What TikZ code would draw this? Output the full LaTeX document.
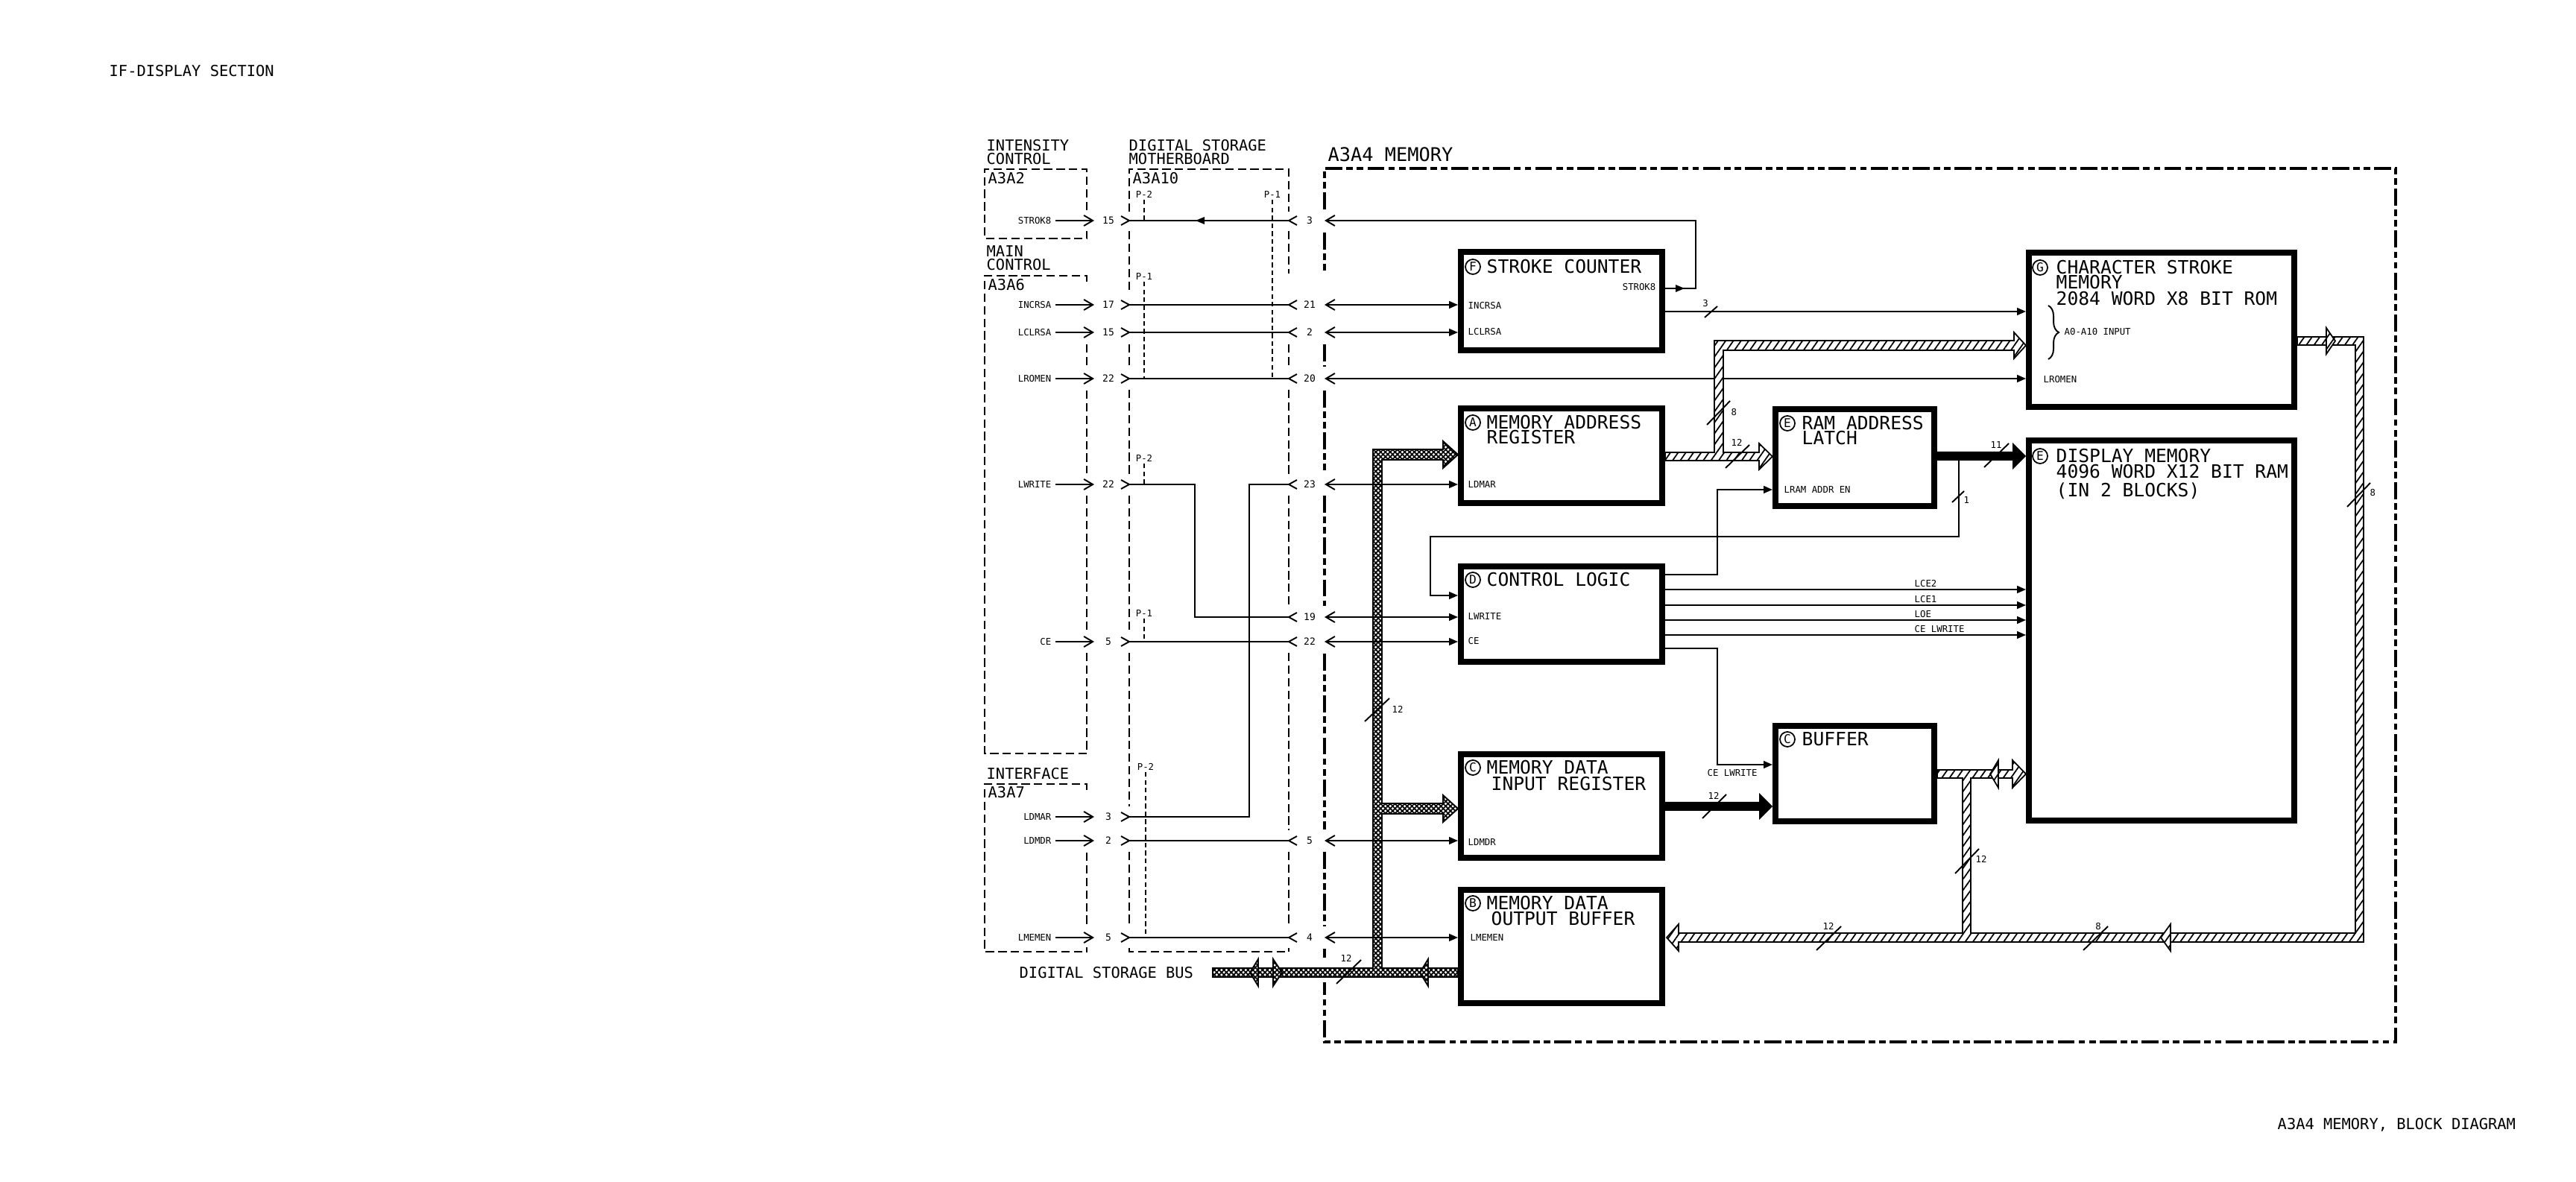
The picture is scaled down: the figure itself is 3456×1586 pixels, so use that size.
\documentclass[tikz,border=0pt]{standalone}
\usepackage{fontspec}
\setmainfont{DejaVu Sans Mono}
\usetikzlibrary{arrows.meta,patterns.meta,decorations.pathreplacing}
\begin{document}
\begin{tikzpicture}[x=0.01cm,y=-0.01cm,
 ttl/.style={font=\fontsize{7pt}{8pt}\selectfont,anchor=base west,inner sep=0pt,yshift=-2.55pt},
 sec/.style={font=\fontsize{5.8pt}{7pt}\selectfont,anchor=base west,inner sep=0pt,yshift=-2.11pt},
 sml/.style={font=\fontsize{3.5pt}{4pt}\selectfont,anchor=base west,inner sep=0pt,yshift=-1.28pt},
 smr/.style={sml,anchor=base east},
 smc/.style={sml,anchor=base},
 numc/.style={font=\fontsize{3.7pt}{4pt}\selectfont,anchor=base,inner sep=0pt,yshift=-1.35pt},
 lbl/.style={font=\fontsize{3.5pt}{4pt}\selectfont,anchor=base west,inner sep=0pt},
 blk/.style={draw,line width=2.28pt,inner sep=0pt,anchor=north west},
 cl/.style={circle,draw,line width=0.5pt,inner sep=0pt,minimum size=0.2cm,font=\fontsize{4.6pt}{5pt}\selectfont},
 wire/.style={line width=0.55pt},
 tin/.style={wire,-{Triangle[length=3.4pt,width=2.8pt]}},
 bi/.style={wire,{Straight Barb[length=3.4pt,width=4pt]}-{Triangle[length=3.4pt,width=2.8pt]}},
 bout/.style={wire,{Straight Barb[length=3.4pt,width=4pt]}-},
 oarr/.style={wire,-{Straight Barb[length=3.4pt,width=4pt]}},
 dbox/.style={line width=0.6pt,dash pattern=on 3.2pt off 1.6pt},
 dmem/.style={line width=1.15pt,dash pattern=on 6.5pt off 1.5pt on 2.5pt off 1.5pt on 2.5pt off 1.5pt},
 pdash/.style={line width=0.4pt,dash pattern=on 1.8pt off 1.2pt},
 xbus/.style={draw,line width=0.55pt,preaction={fill=white},pattern={Hatch[angle=45,distance=1.3pt,line width=0.5pt]}},
 hbus/.style={draw,line width=0.5pt,preaction={fill=white},pattern={Lines[angle=55,distance=2.4pt,line width=0.5pt]}},
 sbus/.style={fill=black},
 slash/.style={line width=0.55pt}
]
\fill[white] (0,0) rectangle (3456,1586);
\useasboundingbox (0,0) rectangle (3456,1586);

% ---------- row coordinates ----------
\foreach \r in {296,387,409,418,446,508,650,657,720,771,791,799,812,828,832,852,861,870,1026,1128,1258}
  {\coordinate (y\r) at (0,\r); \coordinate (b\r) at (1777,\r);}

% ---------- corner texts ----------
\node[sec] (tIF) at (146,95) {IF-DISPLAY SECTION};
\node[sec] (tBD) at (3055,1508) {A3A4 MEMORY, BLOCK DIAGRAM};

% ---------- left section labels ----------
\node[sec] (tIC1) at (1323,195) {INTENSITY};
\node[sec] (tIC2) at (1323,213) {CONTROL};
\node[sec] (tDS1) at (1514,195) {DIGITAL STORAGE};
\node[sec] (tDS2) at (1514,213) {MOTHERBOARD};
\node[sec] (tMC1) at (1323,337) {MAIN};
\node[sec] (tMC2) at (1323,355) {CONTROL};
\node[sec] (tINT) at (1323,1038) {INTERFACE};
\node[sec] (tA2) at (1325,239) {A3A2};
\node[sec] (tA10) at (1519,239) {A3A10};
\node[sec] (tA6) at (1325,382) {A3A6};
\node[sec] (tA7) at (1325,1063) {A3A7};
\node[sec] (tBus) at (1367,1305) {DIGITAL STORAGE BUS};
\node[ttl,font=\fontsize{7.2pt}{8pt}\selectfont] (tMem) at (1781,208) {A3A4 MEMORY};

% ---------- dashed boxes ----------
\draw[dbox] (1458,282) -- (1458,227) -- (1321,227) -- (1321,320) -- (1458,320) -- (1458,310);
\draw[dbox] (1458,378) -- (1458,370) -- (1321,370) -- (1321,1011) -- (1458,1011) -- (1458,876);
\foreach \a/\b in {462/492,524/635,665/846} \draw[dbox] (1458,\a) -- (1458,\b);
\draw[dbox] (1458,1060) -- (1458,1052) -- (1321,1052) -- (1321,1277) -- (1458,1277) -- (1458,1271);
\draw[dbox] (1458,1144) -- (1458,1244);
% A3A10
\draw[dbox] (1515,284) -- (1515,227) -- (1729,227) -- (1729,284);
\draw[dbox] (1515,1272) -- (1515,1277) -- (1729,1277) -- (1729,1272);
\foreach \a/\b in {310/394,462/493,523/636,665/846,876/1082,1143/1244} \draw[dbox] (1515,\a) -- (1515,\b);
\foreach \a/\b in {310/367,462/493,523/636,665/813,876/1114,1143/1244} \draw[dbox] (1729,\a) -- (1729,\b);
% A3A4
\draw[dmem] (1777,281) -- (1777,226) -- (3214,226) -- (3214,1398) -- (1777,1398) -- (1777,1318);
\foreach \a/\b in {312/367,462/492,524/636,665/813,877/1113,1143/1243,1273/1285} \draw[dmem] (1777,\a) -- (1777,\b);

% ---------- P labels ----------
\foreach \px/\pl/\pe/\pt [count=\k] in {1535/261/296/P-2,1707/261/508/P-1,1535/371/508/P-1,1535/615/650/P-2,1535/823/861/P-1,1537/1029/1258/P-2}{
  \node[smc] (pl\k) at (\px,\pl) {\pt};
  \draw[pdash] (\px,\pl+7) -- (\px,\pe);
}

% ---------- blocks ----------
\node[blk,minimum width=2.70cm,minimum height=1.32cm] (F) at (1956,334) {};
\node[blk,minimum width=2.70cm,minimum height=1.27cm] (A) at (1956,544) {};
\node[blk,minimum width=2.70cm,minimum height=1.28cm] (D) at (1956,756) {};
\node[blk,minimum width=2.70cm,minimum height=1.39cm] (C) at (1956,1008) {};
\node[blk,minimum width=2.70cm,minimum height=1.52cm] (B) at (1956,1190) {};
\node[blk,minimum width=2.13cm,minimum height=1.30cm] (L) at (2378,545) {};
\node[blk,minimum width=2.13cm,minimum height=1.28cm] (U) at (2378,970) {};
\node[blk,minimum width=3.56cm,minimum height=2.07cm] (G) at (2718,335) {};
\node[blk,minimum width=3.56cm,minimum height=5.10cm] (M) at (2718,587) {};

% ---------- cross-hatched digital storage bus ----------
\draw[xbus] (1842,603) -- (1936,603) -- (1936,592) -- (1956,610) -- (1936,628) -- (1936,617) -- (1854,617)
  -- (1854,1078) -- (1936,1078) -- (1936,1067) -- (1956,1085) -- (1936,1103) -- (1936,1092) -- (1854,1092)
  -- (1854,1299) -- (1956,1299) -- (1956,1311) -- (1627,1311) -- (1627,1299) -- (1842,1299) -- cycle;
\draw[xbus] (1677,1305) -- (1688,1287) -- (1688,1323) -- cycle;
\draw[xbus] (1720,1305) -- (1708,1287) -- (1708,1323) -- cycle;
\draw[xbus] (1905,1305) -- (1916,1287) -- (1916,1323) -- cycle;

% ---------- left side signals ----------
\foreach \yy/\ss/\nn in {296/STROK8/15,409/INCRSA/17,446/LCLRSA/15,508/LROMEN/22,650/LWRITE/22,861/CE/5,1096/LDMAR/3,1128/LDMDR/2,1258/LMEMEN/5}{
  \node[smr] (lab\yy) at (1411,\yy) {\ss};
  \draw[oarr] (1416,\yy) -- (1468,\yy);
  \node[numc] (ln\yy) at (1487,\yy) {\nn};
  \draw[wire] (1504,\yy-6) -- (1515,\yy) -- (1504,\yy+6);
}
\foreach \yy/\nn in {296/3,409/21,446/2,508/20,650/23,828/19,861/22,1128/5,1258/4}{
  \draw[wire] (1740,\yy-6) -- (1729,\yy) -- (1740,\yy+6);
  \node[numc] (rn\yy) at (1757,\yy) {\nn};
}
% motherboard wiring
\foreach \yy in {296,409,446,508,861,1128,1258} \draw[wire] (1515,\yy) -- (1729,\yy);
\fill (1616,291) -- (1604,296) -- (1616,301) -- cycle;
\draw[wire] (1515,650) -- (1603,650) -- (1603,828) -- (1729,828);
\draw[wire] (1729,650) -- (1676,650) -- (1676,1096) -- (1515,1096);

% ---------- A3A4 internal signals ----------
\draw[bout] (b296) -- (2275,296) -- (2275,387) -- (F.east |- y387);
\fill (2248,382) -- (2260,387) -- (2248,392) -- cycle;
\draw[bi] (b409) -- (F.west |- y409);
\draw[bi] (b446) -- (F.west |- y446);
\draw[bi] (b508) -- (G.west |- y508);
\draw[bi] (b650) -- (A.west |- y650);
\draw[bi] (b828) -- (D.west |- y828);
\draw[bi] (b861) -- (D.west |- y861);
\draw[bi] (b1128) -- (C.west |- y1128);
\draw[bi] (b1258) -- (B.west |- y1258);
\draw[tin] (F.east |- y418) -- (G.west |- y418);
\draw[tin] (D.east |- y771) -- (2304,771) -- (2304,657) -- (L.west |- y657);
\foreach \r in {791,812,832,852} \draw[tin] (D.east |- y\r) -- (M.west |- y\r);
\draw[tin] (D.east |- y870) -- (2304,870) -- (2304,1026) -- (U.west |- y1026);
\draw[tin] (2628,618) -- (2628,720) -- (1919,720) -- (1919,799) -- (D.west |- y799);

% ---------- hatched buses ----------
\draw[hbus] (2234,607) -- (2300,607) -- (2300,457) -- (2702,457) -- (2702,446) -- (2718,463.5) -- (2702,481) -- (2702,470)
  -- (2312,470) -- (2312,607) -- (2360,607) -- (2360,595) -- (2378,612.5) -- (2360,630) -- (2360,618) -- (2234,618) -- cycle;
\draw[hbus] (3082,452) -- (3171,452) -- (3171,1264) -- (2252,1264) -- (2252,1276) -- (2236,1258) -- (2252,1240) -- (2252,1252)
  -- (2633,1252) -- (2633,1044) -- (2599,1044) -- (2599,1033) -- (2700,1033) -- (2700,1020) -- (2718,1038.5) -- (2700,1057)
  -- (2700,1044) -- (2644,1044) -- (2644,1252) -- (3160,1252) -- (3160,463) -- (3082,463) -- cycle;
\draw[hbus] (2670,1038.5) -- (2681,1020) -- (2681,1057) -- cycle;
\draw[hbus] (3133,457.5) -- (3121,440) -- (3121,475) -- cycle;
\draw[hbus] (2899,1258) -- (2912,1240) -- (2912,1276) -- cycle;
% solid buses
\fill[sbus] (2599,606) -- (2700,606) -- (2700,594) -- (2718,612) -- (2700,630) -- (2700,618) -- (2599,618) -- cycle;
\fill[sbus] (2234,1076) -- (2360,1076) -- (2360,1064) -- (2378,1082) -- (2360,1100) -- (2360,1088) -- (2234,1088) -- cycle;

% ---------- bus width slashes ----------
\draw[slash] (1831,968) -- (1864,937);   \node[sml] (n1) at (1867,952) {12};
\draw[slash] (1793,1320) -- (1826,1288); \node[smc] (n2) at (1806,1286) {12};
\draw[slash] (2287,426) -- (2304,411);   \node[smc] (n3) at (2288,407) {3};
\draw[slash] (2290,570) -- (2321,538);   \node[sml] (n4) at (2322,553) {8};
\draw[slash] (2315,628) -- (2347,597);   \node[smc] (n5) at (2330,594) {12};
\draw[slash] (2662,627) -- (2695,595);   \node[smc] (n6) at (2678,597) {11};
\draw[slash] (2619,674) -- (2635,659);   \node[sml] (n7) at (2634,671) {1};
\draw[slash] (2284,1098) -- (2316,1066); \node[smc] (n8) at (2299,1068) {12};
\draw[slash] (2623,1172) -- (2655,1139); \node[sml] (n9) at (2650,1153) {12};
\draw[slash] (2437,1275) -- (2470,1243); \node[smc] (n10) at (2453,1243) {12};
\draw[slash] (2795,1275) -- (2828,1243); \node[smc] (n11) at (2815,1243) {8};
\draw[slash] (3149,680) -- (3180,648);   \node[sml] (n12) at (3179,661) {8};

% ---------- block texts ----------
\node[cl] (cF) at (1976,358) {F};  \node[ttl] (hF) at (1994,358) {STROKE COUNTER};
\node[smr] (iF3) at (2222,385) {STROK8};
\node[sml] (iF1) at (1969,410) {INCRSA};
\node[sml] (iF2) at (1969,445) {LCLRSA};
\node[cl] (cA) at (1976,567) {A};  \node[ttl] (hA1) at (1994,567) {MEMORY ADDRESS};
\node[ttl] (hA2) at (1994,587) {REGISTER};
\node[sml] (iA1) at (1969,650) {LDMAR};
\node[cl] (cD) at (1976,778) {D};  \node[ttl] (hD) at (1994,778) {CONTROL LOGIC};
\node[sml] (iD1) at (1969,827) {LWRITE};
\node[sml] (iD2) at (1969,860) {CE};
\node[cl] (cC) at (1976,1030) {C}; \node[ttl] (hC1) at (1994,1030) {MEMORY DATA};
\node[ttl] (hC2) at (2000,1052) {INPUT REGISTER};
\node[sml] (iC1) at (1969,1130) {LDMDR};
\node[cl] (cB) at (1976,1212) {B}; \node[ttl] (hB1) at (1994,1212) {MEMORY DATA};
\node[ttl] (hB2) at (2000,1233) {OUTPUT BUFFER};
\node[sml] (iB1) at (1972,1258) {LMEMEN};
\node[cl] (cL) at (2398,568) {E};  \node[ttl] (hL1) at (2417,568) {RAM ADDRESS};
\node[ttl] (hL2) at (2417,588) {LATCH};
\node[sml] (iL1) at (2393,657) {LRAM ADDR EN};
\node[cl] (cU) at (2398,992) {C};  \node[ttl] (hU) at (2417,992) {BUFFER};
\node[sml] (iU1) at (2290,1037) {CE LWRITE};
\node[cl] (cG) at (2737,359) {G};  \node[ttl] (hG1) at (2758,359) {CHARACTER STROKE};
\node[ttl] (hG2) at (2758,379) {MEMORY};
\node[ttl] (hG3) at (2758,401) {2084 WORD X8 BIT ROM};
\draw[wire,decorate,decoration={brace,amplitude=4pt}] (2748,410) -- (2748,482);
\node[sml] (iG1) at (2769,445) {A0-A10 INPUT};
\node[sml] (iG2) at (2741,509) {LROMEN};
\node[cl] (cM) at (2737,612) {E};  \node[ttl] (hM1) at (2758,612) {DISPLAY MEMORY};
\node[ttl] (hM2) at (2758,633) {4096 WORD X12 BIT RAM};
\node[ttl] (hM3) at (2758,658) {(IN 2 BLOCKS)};
\node[lbl] (w1) at (2568,788) {LCE2};
\node[lbl] (w2) at (2568,809) {LCE1};
\node[lbl] (w3) at (2568,829) {LOE};
\node[lbl] (w4) at (2568,849) {CE LWRITE};
\end{tikzpicture}
\end{document}
